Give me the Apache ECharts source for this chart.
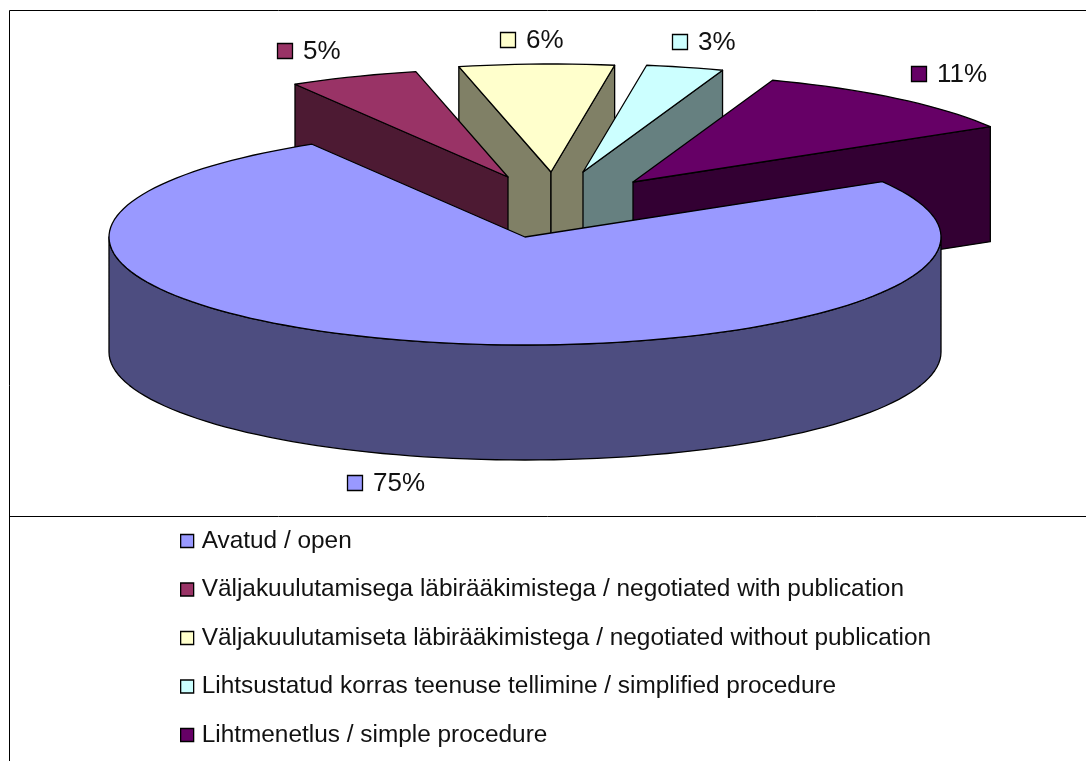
<!DOCTYPE html>
<html><head><meta charset="utf-8">
<style>html,body{margin:0;padding:0;background:#fff}#c{width:1086px;height:761px}</style>
<script src="https://cdn.jsdelivr.net/npm/echarts@6/dist/echarts.min.js"></script>
</head><body><div id="c"></div>
<script>
// Data
const categories = [
  'Avatud / open',
  'Väljakuulutamisega läbirääkimistega / negotiated with publication',
  'Väljakuulutamiseta läbirääkimistega / negotiated without publication',
  'Lihtsustatud korras teenuse tellimine / simplified procedure',
  'Lihtmenetlus / simple procedure'
];
const values = [75, 5, 6, 3, 11];

// Styles
const topColors = ['#9999FF', '#993366', '#FFFFCC', '#CCFFFF', '#660066'];
const wallColors = ['#4D4D80', '#4D1A33', '#808066', '#668080', '#330033'];

// Layout: pie geometry, explosion of each slice, value-label placement
const FONT = '"Liberation Sans", Arial, sans-serif';
const pie = { cx: 525, cy: 237, rx: 416, ry: 108, depth: 115, startAngle: 59.2 };
const explode = [[0, 0], [-17, -60], [26, -65], [58, -65], [108, -55]];
const labelAnchors = [[347, 483], [277, 51], [500, 40], [672, 42], [911, 74]];
const paintOrder = [2, 3, 1, 4, 0];   // back slices first

const total = values.reduce((a, b) => a + b, 0);
const D2R = Math.PI / 180;
const ranges = [];
values.reduce((a, v) => {
  const e = a + v / total * 360;
  ranges.push([a, e]);
  return e;
}, pie.startAngle);

function pt(o, deg, dy) {
  return [pie.cx + o[0] + pie.rx * Math.sin(deg * D2R),
          pie.cy + o[1] + pie.ry * -Math.cos(deg * D2R) + (dy || 0)];
}
function arc(o, a, b, dy) {
  const n = Math.max(2, Math.ceil(Math.abs(b - a) / 2)), out = [];
  for (let i = 0; i <= n; i++) out.push(pt(o, a + (b - a) * i / n, dy));
  return out;
}
function poly(points, fill) {
  return { type: 'polygon', shape: { points }, silent: true,
           style: { fill, stroke: '#000', lineWidth: 1.3, lineJoin: 'round' } };
}
function sliceRenderer(i) {
  return function () {
    const o = explode[i], [a, b] = ranges[i], wall = wallColors[i], d = pie.depth;
    const apex = [pie.cx + o[0], pie.cy + o[1]];
    const apexLow = [apex[0], apex[1] + d];
    const children = [];
    // radial walls that face the viewer
    if (Math.sin(a * D2R) < 0) children.push(poly([apex, pt(o, a), pt(o, a, d), apexLow], wall));
    if (Math.sin(b * D2R) > 0) children.push(poly([apex, pt(o, b), pt(o, b, d), apexLow], wall));
    // outer wall: front half of the ellipse only
    const f0 = Math.max(a, 90), f1 = Math.min(b, 270);
    if (f1 > f0) children.push(poly(arc(o, f0, f1).concat(arc(o, f1, f0, d)), wall));
    // top face
    children.push(poly([apex].concat(arc(o, a, b)), topColors[i]));
    // value label
    const [lx, ly] = labelAnchors[i];
    children.push({ type: 'rect', shape: { x: lx + 0.5, y: ly - 7.5, width: 15, height: 15 }, silent: true,
                    style: { fill: topColors[i], stroke: '#000', lineWidth: 1.3 } });
    children.push({ type: 'text', x: lx + 26, y: ly + 1, silent: true,
                    style: { text: values[i] + '%', font: '26px ' + FONT, fill: '#111',
                             textAlign: 'left', textVerticalAlign: 'middle' } });
    return { type: 'group', children };
  };
}

const chart = echarts.init(document.getElementById('c'), null, { renderer: 'canvas' });
const frameLine = (x1, y1, x2, y2) => ({ type: 'line', shape: { x1, y1, x2, y2 }, silent: true,
  style: { stroke: '#000', lineWidth: 1 } });

chart.setOption({
  animation: false,
  backgroundColor: '#fff',
  legend: {
    data: categories, orient: 'vertical', left: 180, top: 529, padding: 0,
    itemWidth: 13, itemHeight: 13, itemGap: 24.5, icon: 'rect', selectedMode: false,
    itemStyle: { borderColor: '#000', borderWidth: 1.3 },
    textStyle: { fontFamily: FONT, fontSize: 24.4, color: '#111', padding: [0, 0, 0, 3], height: 24, lineHeight: 24 }
  },
  graphic: [
    frameLine(9.5, 10.5, 1086, 10.5),
    frameLine(9.5, 10.5, 9.5, 761),
    frameLine(9.5, 516.5, 1086, 516.5)
  ],
  series: categories.map((name, i) => ({
    type: 'custom', name, coordinateSystem: 'none',
    z: 2 + paintOrder.indexOf(i),
    itemStyle: { color: topColors[i] },
    data: [[values[i]]],
    renderItem: sliceRenderer(i)
  }))
});
</script></body></html>
